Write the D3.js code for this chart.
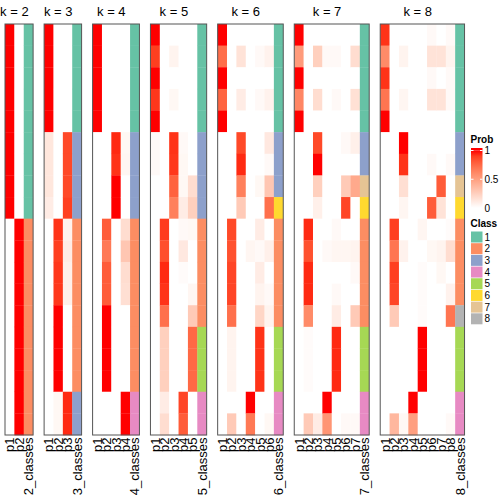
<!DOCTYPE html>
<html>
<head>
<meta charset="utf-8">
<script src="https://cdn.jsdelivr.net/npm/d3@7"></script>
<style>
  html, body { margin: 0; padding: 0; background: #fff; }
  svg { display: block; font-family: "Liberation Sans", Arial, Helvetica, sans-serif; }
</style>
</head>
<body>
<svg id="chart" width="504" height="504"></svg>
<script>
// ---- data: membership probabilities per column (19 samples, top to bottom) ----
const kValues = [2, 3, 4, 5, 6, 7, 8];

const probK2 = [
  [1,1,1,1,1,1,1,1,1,0,0,0,0,0,0,0,0,0,0],
  [0,0,0,0,0,0,0,0,0,1,1,1,1,1,1,1,1,1,1]
];
const classK2 = [1,1,1,1,1,1,1,1,1,2,2,2,2,2,2,2,2,2,2];

const probK3 = [
  [1,1,1,1,1,0.13,0.13,0.13,0.1,0,0,0,0,0,0,0,0,0,0],
  [0,0,0,0,0,0,0,0,0,0.93,0.9,0.92,0.92,1,1,1,1,0.04,0.04],
  [0,0,0,0,0,0.87,0.87,0.87,0.9,0.07,0.1,0.08,0.08,0,0,0,0,0.95,0.95]
];
const classK3 = [1,1,1,1,1,3,3,3,3,2,2,2,2,2,2,2,2,3,3];

const probK4 = [
  [1,1,1,1,1,0,0,0,0,0,0,0,0,0,0,0,0,0,0],
  [0,0,0,0,0,0,0,0,0,0.8,0.68,0.8,0.8,1,1,1,1,0,0],
  [0,0,0,0,0,0.95,0.93,1,1,0,0,0,0,0,0,0,0,0,0],
  [0,0,0,0,0,0.04,0.05,0,0,0.18,0.3,0.18,0.17,0,0,0,0,1,1]
];
const classK4 = [1,1,1,1,1,3,3,3,3,2,2,2,2,2,2,2,2,4,4];

const probK5 = [
  [1,0.9,1,0.92,1,0.03,0.03,0,0,0,0,0,0,0,0,0,0,0,0],
  [0,0,0,0,0,0,0,0,0,0.91,0.85,0.95,0.93,0.72,0.25,0.25,0.25,0.1,0.18],
  [0,0.06,0,0.04,0,0.93,0.92,0.78,0.65,0,0,0,0,0,0,0,0,0,0],
  [0,0,0,0,0,0.03,0.04,0.04,0.1,0.03,0.12,0.02,0,0,0,0,0,0.88,0.8],
  [0,0,0,0,0,0,0,0.18,0.25,0.04,0,0,0.05,0.28,0.75,0.75,0.75,0,0]
];
const classK5 = [1,1,1,1,1,3,3,3,3,2,2,2,2,2,5,5,5,4,4];

const probK6 = [
  [1,0.73,1,0.77,1,0,0,0,0,0,0,0,0,0,0,0,0,0,0],
  [0,0,0,0,0,0,0,0,0,0.87,0.84,0.88,0.88,0.72,0.06,0.06,0.06,0,0.28],
  [0,0.15,0,0.1,0,0.87,0.95,0.65,0.28,0,0,0,0,0,0,0,0,0,0],
  [0,0,0,0,0,0,0,0,0,0,0.05,0,0,0,0,0,0,1,0.68],
  [0,0.03,0,0.03,0,0,0,0.04,0,0.1,0.03,0.1,0.06,0.22,0.93,0.93,0.93,0,0],
  [0,0.07,0,0.07,0,0.12,0.03,0.3,0.72,0,0.08,0,0.03,0.06,0,0,0,0,0.04]
];
const classK6 = [1,1,1,1,1,3,3,3,6,2,2,2,2,2,5,5,5,4,4];

const probK7 = [
  [1,0.52,1,0.62,1,0,0,0,0,0,0,0,0,0,0,0,0,0,0],
  [0,0,0,0,0,0,0,0,0,0.95,0.84,0.95,0.95,0.6,0.02,0.02,0.02,0,0.28],
  [0,0.25,0,0.18,0,0.87,1,0.25,0.08,0,0,0,0,0,0,0,0,0,0.1],
  [0,0.03,0,0,0,0,0,0,0,0,0.03,0,0,0,0,0,0,1,0.55],
  [0,0.03,0,0.03,0,0,0,0,0,0.03,0.05,0,0.03,0.1,0.95,0.95,0.95,0,0],
  [0,0,0,0,0,0.03,0,0.28,0.88,0,0.05,0,0,0,0,0,0,0,0.03],
  [0,0.18,0,0.16,0,0.08,0,0.45,0,0,0.06,0.03,0,0.28,0,0,0,0,0.03]
];
const classK7 = [1,1,1,1,1,3,3,7,6,2,2,2,2,2,5,5,5,4,4];

const probK8 = [
  [0.93,0.6,0.93,0.7,1,0,0,0,0,0,0,0,0,0,0,0,0,0,0],
  [0,0,0,0,0,0,0,0,0,0.9,0.7,0.9,0.88,0.28,0,0,0,0,0.38],
  [0,0.06,0,0.05,0,1,0.93,0.17,0.05,0,0.07,0,0,0,0,0,0,0,0.04],
  [0,0,0,0,0,0,0,0,0,0,0,0,0,0,0,0,0,1,0.5],
  [0,0,0,0,0,0,0,0,0,0.05,0,0.02,0.02,0.02,1,1,1,0,0],
  [0.03,0.15,0.03,0.15,0,0,0.03,0,0.8,0,0.04,0,0,0,0,0,0,0,0],
  [0,0.15,0,0.15,0,0,0,0.8,0.15,0,0.06,0.04,0,0,0,0,0,0,0],
  [0.03,0.06,0.03,0.03,0,0,0.03,0,0,0.02,0.18,0,0.07,0.7,0,0,0,0,0.03]
];
const classK8 = [1,1,1,1,1,3,3,7,6,2,2,2,2,8,5,5,5,4,4];

const classIds = [1, 2, 3, 4, 5, 6, 7, 8];
const classColors = ["#66C2A5","#FC8D62","#8DA0CB","#E78AC3","#A6D854","#FFD92F","#E5C494","#B3B3B3"];
const probTicks = [0, 0.5, 1];

// ---- assembly ----
const probs = [probK2, probK3, probK4, probK5, probK6, probK7, probK8];
const classes = [classK2, classK3, classK4, classK5, classK6, classK7, classK8];
const nRows = classK2.length;

const svg = d3.select("#chart");
const colW = 9.37, gap = 11, startX = 5;
const yTop = 24, yBottom = 435;

const y = d3.scaleBand().domain(d3.range(nRows)).range([yTop, yBottom]).padding(0);
const probColor = d3.scaleLinear().domain([0, 1]).range(["#FFFFFF", "#FF0000"]).interpolate(d3.interpolateLab).clamp(true);
const classColor = d3.scaleOrdinal().domain(classIds).range(classColors);

let left = startX;
kValues.forEach((k, i) => {
  const pNames = d3.range(1, k + 1).map(j => "p" + j);
  const colNames = pNames.concat([k + "_classes"]);
  const x = d3.scaleBand().domain(colNames).range([left, left + colNames.length * colW]).padding(0);
  const g = svg.append("g");

  // probability cells
  probs[i].forEach((col, ci) => {
    g.selectAll(null).data(col).enter().append("rect")
      .attr("x", x(pNames[ci]))
      .attr("y", (d, r) => y(r))
      .attr("width", x.bandwidth() + 0.3)
      .attr("height", y.bandwidth() + 0.3)
      .attr("fill", d => probColor(d));
  });
  // class annotation column
  g.selectAll(null).data(classes[i]).enter().append("rect")
    .attr("x", x(k + "_classes"))
    .attr("y", (d, r) => y(r))
    .attr("width", x.bandwidth())
    .attr("height", y.bandwidth() + 0.3)
    .attr("fill", d => classColor(d));

  // border
  g.append("rect")
    .attr("x", x.range()[0]).attr("y", yTop)
    .attr("width", x.range()[1] - x.range()[0]).attr("height", yBottom - yTop)
    .attr("fill", "none").attr("stroke", "#555").attr("stroke-width", 1);

  // title over probability columns
  const pl = x(pNames[0]), pr = x(pNames[pNames.length - 1]) + x.bandwidth();
  g.append("text")
    .attr("x", (pl + pr) / 2).attr("y", 15.5)
    .attr("text-anchor", "middle")
    .attr("font-size", 13)
    .text("k = " + k);

  // column labels
  colNames.forEach(name => {
    const cx = x(name) + x.bandwidth() / 2;
    g.append("text")
      .attr("transform", `translate(${cx},${yBottom + 2.5}) rotate(-90)`)
      .attr("text-anchor", "end")
      .attr("dy", "0.36em")
      .attr("font-size", 13)
      .text(name);
  });

  left = x.range()[1] + gap;
});

// ---- legends ----
const lx = 470.5;
const leg = svg.append("g");
leg.append("text").attr("x", lx).attr("y", 143).attr("font-size", 10).attr("font-weight", "bold").text("Prob");

const ly = d3.scaleLinear().domain([0, 1]).range([208, 150.5]);
const defs = svg.append("defs");
const grad = defs.append("linearGradient").attr("id", "pgrad").attr("x1", 0).attr("x2", 0).attr("y1", 1).attr("y2", 0);
d3.range(0, 1.0001, 0.1).forEach(t => {
  grad.append("stop").attr("offset", t).attr("stop-color", probColor(t));
});
leg.append("rect")
  .attr("x", 471).attr("y", ly(1)).attr("width", 11.5).attr("height", ly(0) - ly(1))
  .attr("fill", "url(#pgrad)");
leg.append("rect")
  .attr("x", 471).attr("y", 148).attr("width", 11.5).attr("height", ly(1) - 148)
  .attr("fill", probColor(1));
probTicks.forEach(t => {
  leg.append("line").attr("x1", 471).attr("x2", 473.5).attr("y1", ly(t)).attr("y2", ly(t)).attr("stroke", "#fff").attr("stroke-width", 1);
  leg.append("line").attr("x1", 480).attr("x2", 482.5).attr("y1", ly(t)).attr("y2", ly(t)).attr("stroke", "#fff").attr("stroke-width", 1);
  leg.append("text").attr("x", 484.5).attr("y", ly(t)).attr("dy", "0.36em").attr("font-size", 10).text(d3.format("")(t));
});

leg.append("text").attr("x", lx).attr("y", 227).attr("font-size", 10).attr("font-weight", "bold").text("Class");
const cy = d3.scaleBand().domain(classIds).range([231.5, 231.5 + classIds.length * 11.6]).paddingInner(0.06);
leg.selectAll(null).data(classIds).enter().append("rect")
  .attr("x", 471).attr("y", d => cy(d)).attr("width", 11.5).attr("height", cy.bandwidth())
  .attr("fill", d => classColor(d));
leg.selectAll(null).data(classIds).enter().append("text")
  .attr("x", 484.5).attr("y", d => cy(d) + cy.bandwidth() / 2).attr("dy", "0.36em")
  .attr("font-size", 10).text(d => d);
</script>
</body>
</html>
